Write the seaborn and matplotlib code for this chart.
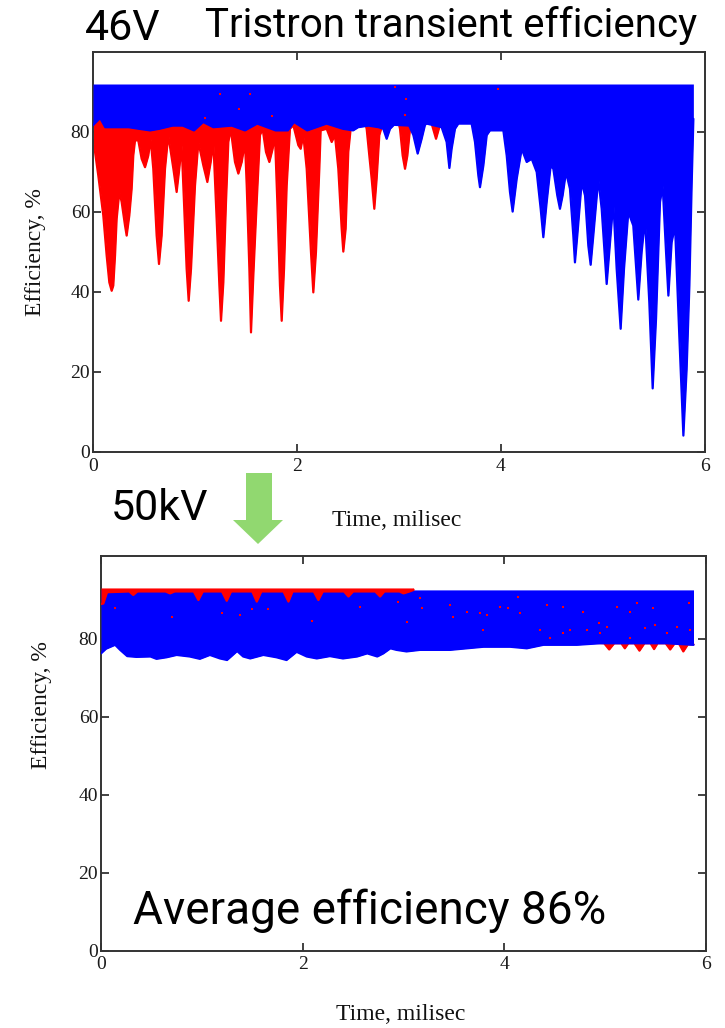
import pandas as pd
import seaborn as sns
import matplotlib.pyplot as plt
from matplotlib.patches import Polygon

# --- datos del panel superior (46V) ---
# envolvente inferior de la banda azul
top_blue_t = [0.000, 0.070, 0.120, 0.350, 0.450, 0.560, 0.650, 0.780, 0.880, 0.990,
              1.080, 1.180, 1.360, 1.490, 1.610, 1.790, 1.910, 1.970, 2.100, 2.290,
              2.450, 2.550, 2.600, 2.700, 2.800, 2.846, 2.879, 2.912, 2.950, 3.100,
              3.141, 3.183, 3.222, 3.255, 3.271, 3.418, 3.467, 3.494, 3.516, 3.549,
              3.582, 3.712, 3.745, 3.778, 3.794, 3.827, 3.860, 3.892, 4.023, 4.056,
              4.088, 4.114, 4.154, 4.203, 4.252, 4.301, 4.350, 4.389, 4.415, 4.448,
              4.487, 4.513, 4.552, 4.578, 4.604, 4.637, 4.676, 4.709, 4.725, 4.748,
              4.791, 4.824, 4.856, 4.879, 4.905, 4.954, 4.987, 5.036, 5.069, 5.101,
              5.134, 5.173, 5.206, 5.248, 5.297, 5.346, 5.379, 5.412, 5.454, 5.487,
              5.520, 5.559, 5.585, 5.618, 5.641, 5.673, 5.706, 5.748, 5.788, 5.820,
              5.847, 5.869, 5.886]
top_blue_low = [81.7, 83.5, 81.2, 81.2, 80.8, 80.4, 80.8, 81.6, 81.6, 80.4,
                82.5, 81.2, 81.6, 80.4, 82.1, 80.4, 80.4, 82.5, 80.4, 82.1,
                80.8, 80.4, 81.2, 81.6, 81.2, 80.8, 78.3, 80.8, 81.8, 81.6,
                79.2, 74.6, 78.3, 81.8, 82.1, 81.2, 77.5, 71.0, 75.8, 80.8,
                82.1, 82.1, 77.5, 69.1, 66.2, 71.6, 79.2, 80.4, 80.4, 74.1,
                65.0, 60.1, 68.3, 75.8, 72.5, 73.3, 70.0, 60.8, 53.7, 62.5,
                71.6, 70.8, 64.1, 60.8, 64.1, 70.0, 65.8, 54.1, 47.4, 54.1,
                67.5, 64.1, 51.6, 46.8, 54.1, 68.3, 60.8, 42.0, 52.4, 62.5,
                45.8, 30.8, 45.8, 60.0, 56.6, 38.1, 50.0, 58.3, 37.4, 15.9,
                33.3, 62.5, 66.6, 50.0, 39.1, 52.4, 56.6, 29.1, 4.1, 20.7,
                41.6, 66.6, 83.3]
top_band_max = 92.0

# envolvente inferior de la zona roja
top_red_t = [0.000, 0.020, 0.052, 0.101, 0.134, 0.160, 0.183, 0.199, 0.216, 0.232,
             0.258, 0.281, 0.314, 0.330, 0.356, 0.379, 0.395, 0.412, 0.444, 0.477,
             0.510, 0.542, 0.565, 0.591, 0.624, 0.647, 0.673, 0.706, 0.738, 0.788,
             0.820, 0.846, 0.869, 0.892, 0.918, 0.938, 0.961, 1.000, 1.033, 1.082,
             1.121, 1.154, 1.180, 1.212, 1.239, 1.255, 1.278, 1.304, 1.327, 1.350,
             1.392, 1.425, 1.458, 1.490, 1.507, 1.533, 1.549, 1.572, 1.605, 1.637,
             1.663, 1.696, 1.729, 1.761, 1.784, 1.807, 1.833, 1.850, 1.873, 1.899,
             1.931, 1.964, 2.013, 2.036, 2.062, 2.095, 2.137, 2.160, 2.186, 2.219,
             2.232, 2.291, 2.340, 2.372, 2.405, 2.438, 2.454, 2.477, 2.503, 2.526,
             2.560, 2.650, 2.683, 2.709, 2.732, 2.758, 2.781, 2.807, 2.830, 2.860,
             2.980, 3.010, 3.036, 3.059, 3.082, 3.108, 3.140, 3.300, 3.330, 3.363,
             3.395, 3.420]
top_red_low = [78.0, 75.0, 69.1, 59.1, 49.1, 42.4, 40.3, 41.6, 49.1, 58.3,
               65.0, 62.5, 56.6, 54.1, 59.1, 65.8, 74.1, 77.9, 77.9, 73.3,
               71.2, 74.1, 78.3, 70.8, 54.1, 47.0, 54.1, 70.8, 79.2, 70.8,
               65.0, 70.8, 76.7, 62.5, 45.8, 37.8, 45.8, 66.6, 77.5, 71.6,
               67.5, 72.5, 77.5, 58.3, 41.6, 32.8, 42.4, 62.5, 77.5, 80.8,
               72.5, 69.6, 72.5, 77.5, 66.6, 45.8, 29.9, 44.1, 62.5, 79.2,
               80.8, 75.0, 72.5, 75.8, 79.2, 62.5, 41.6, 32.8, 45.8, 66.6,
               80.8, 81.7, 76.7, 75.8, 79.2, 70.8, 50.0, 39.9, 50.0, 70.8,
               80.4, 80.8, 77.5, 79.2, 70.8, 55.8, 50.1, 55.8, 75.0, 80.8,
               84.0, 84.0, 80.8, 74.1, 68.3, 60.8, 68.3, 79.2, 81.2, 84.0,
               84.0, 80.8, 74.1, 70.8, 74.1, 80.8, 84.0, 84.0, 81.2, 78.3,
               81.2, 84.0]
top_red_max = 84.0

top_dot_t = [1.098, 1.245, 1.430, 1.539, 1.752, 2.960, 3.059, 3.069, 3.974]
top_dot_v = [83.5, 89.6, 85.7, 89.6, 83.9, 91.2, 84.2, 88.3, 90.8]

# --- datos del panel inferior (50kV) ---
bot_blue_t = [0.000, 0.050, 0.140, 0.190, 0.260, 0.350, 0.490, 0.550, 0.650, 0.750,
              0.880, 0.980, 1.080, 1.180, 1.250, 1.350, 1.410, 1.480, 1.610, 1.740,
              1.840, 1.940, 2.040, 2.140, 2.270, 2.400, 2.540, 2.640, 2.740, 2.800,
              2.870, 2.930, 3.030, 3.164, 3.462, 3.627, 3.793, 4.057, 4.223, 4.388,
              4.719, 4.950, 5.280, 5.610, 5.876]
bot_blue_low = [76.3, 77.5, 78.5, 77.2, 75.6, 75.4, 75.5, 74.9, 75.3, 75.9,
                75.5, 74.9, 75.9, 75.0, 74.6, 76.9, 75.5, 75.0, 75.9, 75.3,
                74.6, 76.7, 75.5, 75.0, 75.6, 75.0, 75.5, 76.3, 75.5, 76.3,
                77.6, 77.2, 76.8, 77.2, 77.2, 77.6, 78.0, 78.0, 77.6, 78.5,
                78.5, 78.9, 78.9, 78.9, 78.5]
bot_band_max = 92.6

# franja roja superior (t < 3.1)
bot_red_t = [0.000, 0.023, 0.060, 0.280, 0.320, 0.360, 0.640, 0.685, 0.730, 0.920,
             0.966, 1.010, 1.200, 1.247, 1.290, 1.500, 1.545, 1.590, 1.810, 1.859,
             1.900, 2.110, 2.156, 2.200, 2.410, 2.454, 2.500, 2.720, 2.768, 2.810,
             2.960, 3.000, 3.060, 3.100]
bot_red_low = [89.0, 89.1, 92.0, 92.2, 91.3, 92.2, 92.2, 91.7, 92.2, 92.2,
               90.0, 92.2, 92.2, 89.8, 92.2, 92.2, 89.6, 92.2, 92.2, 89.6,
               92.2, 92.2, 90.0, 92.2, 92.2, 90.9, 92.2, 92.2, 90.9, 92.2,
               92.2, 91.7, 92.2, 92.6]
bot_red_max = 93.1

# manchas rojas en el borde inferior (t > 4.9)
bot_edge_t = [4.900, 4.990, 5.040, 5.090, 5.160, 5.195, 5.230, 5.290, 5.340, 5.390,
              5.450, 5.485, 5.520, 5.600, 5.645, 5.690, 5.730, 5.775, 5.820, 5.876]
bot_edge_low = [79.0, 78.9, 77.3, 78.9, 78.9, 77.6, 78.9, 78.9, 77.0, 78.9,
                78.9, 77.4, 78.9, 78.9, 77.3, 78.9, 78.9, 76.8, 78.6, 78.6]
bot_edge_max = 80.0

bot_dot_t = [0.139, 0.701, 1.197, 1.379, 1.495, 1.660, 2.090, 2.570, 2.950, 3.033,
             3.164, 3.181, 3.462, 3.495, 3.627, 3.760, 3.793, 3.826, 3.958, 4.041,
             4.140, 4.157, 4.355, 4.421, 4.454, 4.586, 4.586, 4.653, 4.785, 4.818,
             4.934, 4.950, 5.016, 5.116, 5.248, 5.248, 5.314, 5.397, 5.479, 5.496,
             5.612, 5.711, 5.827, 5.843]
bot_dot_v = [87.9, 85.7, 86.6, 86.2, 87.6, 87.6, 84.7, 88.1, 89.6, 84.4,
             90.4, 87.9, 88.7, 85.7, 87.0, 86.6, 82.3, 86.2, 88.3, 87.9,
             90.9, 86.6, 82.3, 88.7, 80.2, 88.3, 81.5, 82.3, 87.0, 82.3,
             84.0, 81.5, 83.2, 88.3, 87.0, 80.2, 89.2, 82.7, 87.9, 83.6,
             81.5, 83.2, 89.2, 82.3]

RED = '#ff0000'
BLUE = '#0000ff'
SERIF = 'Liberation Serif'
SANS = 'Roboto'

sns.set_style('ticks')
plt.rcParams['font.family'] = [SERIF, 'DejaVu Serif']

W, H = 725, 1028
fig = plt.figure(figsize=(W / 100, H / 100), dpi=100)


def fx(px):
    return px / W


def fy(py):
    return 1 - py / H


def estilo_ejes(ax, ymax):
    ax.set_xlim(0, 6)
    ax.set_ylim(0, ymax)
    ax.set_xticks([0, 2, 4, 6])
    ax.set_yticks([0, 20, 40, 60, 80])
    ax.set_xlabel('')
    ax.set_ylabel('')
    for s in ax.spines.values():
        s.set_visible(True)
        s.set_color('#333333')
        s.set_linewidth(1.4)
    ax.tick_params(direction='in', length=6, width=1.2, color='#222222',
                   top=True, right=True, labelsize=14, labelcolor='#1a1a1a')
    ax.tick_params(axis='y', pad=2)
    ax.tick_params(axis='x', pad=4)
    for lab in ax.get_xticklabels() + ax.get_yticklabels():
        lab.set_fontfamily(SERIF)


def banda(ax, t, low, high, color, z):
    df = pd.DataFrame({'t': t, 'low': low})
    ax.fill_between(df['t'], df['low'], high, color=color, lw=0, zorder=z)
    sns.lineplot(data=df, x='t', y='low', ax=ax, color=color, lw=1.6,
                 estimator=None, sort=False, zorder=z)


# ---------- panel superior ----------
ax1 = fig.add_axes([fx(93), fy(452), fx(705) - fx(93), fy(52) - fy(452)])
banda(ax1, top_red_t, top_red_low, top_red_max, RED, 2)
banda(ax1, top_blue_t, top_blue_low, top_band_max, BLUE, 3)
sns.scatterplot(x=top_dot_t, y=top_dot_v, ax=ax1, color=RED, s=4,
                linewidth=0, marker='s', zorder=4)
estilo_ejes(ax1, 100)

# ---------- panel inferior ----------
ax2 = fig.add_axes([fx(101), fy(950.6), fx(706) - fx(101), fy(556) - fy(950.6)])
banda(ax2, bot_edge_t, bot_edge_low, bot_edge_max, RED, 2)
banda(ax2, bot_blue_t, bot_blue_low, bot_band_max, BLUE, 3)
banda(ax2, bot_red_t, bot_red_low, bot_red_max, RED, 4)
sns.scatterplot(x=bot_dot_t, y=bot_dot_v, ax=ax2, color=RED, s=4,
                linewidth=0, marker='s', zorder=5)
estilo_ejes(ax2, 101.3)

# etiquetas de ejes
lab_kw = dict(fontsize=17, family=SERIF, color='#111111', ha='center', va='center')
fig.text(fx(36), fy(252), 'Efficiency, %', rotation=90, **lab_kw)
fig.text(fx(42), fy(705), 'Efficiency, %', rotation=90, **lab_kw)
fig.text(fx(397), fy(520), 'Time, milisec', **lab_kw)
fig.text(fx(401), fy(1015), 'Time, milisec', **lab_kw)

# textos grandes
fig.text(fx(85), fy(40), '46V', fontsize=31, family=SANS, color='black', va='baseline')
fig.text(fx(205), fy(37), 'Tristron transient efficiency', fontsize=29, family=SANS,
         color='black', va='baseline')
fig.text(fx(111), fy(520), '50kV', fontsize=31, family=SANS, color='black', va='baseline')
fig.text(fx(133), fy(924), 'Average efficiency 86%', fontsize=33, family=SANS,
         color='black', va='baseline')

# flecha verde
flecha = [(246, 473), (272, 473), (272, 520), (283, 520), (258, 544), (233, 520), (246, 520)]
fig.patches.append(Polygon([(fx(x), fy(y)) for x, y in flecha], closed=True,
                           transform=fig.transFigure, facecolor='#91d870',
                           edgecolor='none', zorder=10))

fig.savefig('out.png', dpi=100)
